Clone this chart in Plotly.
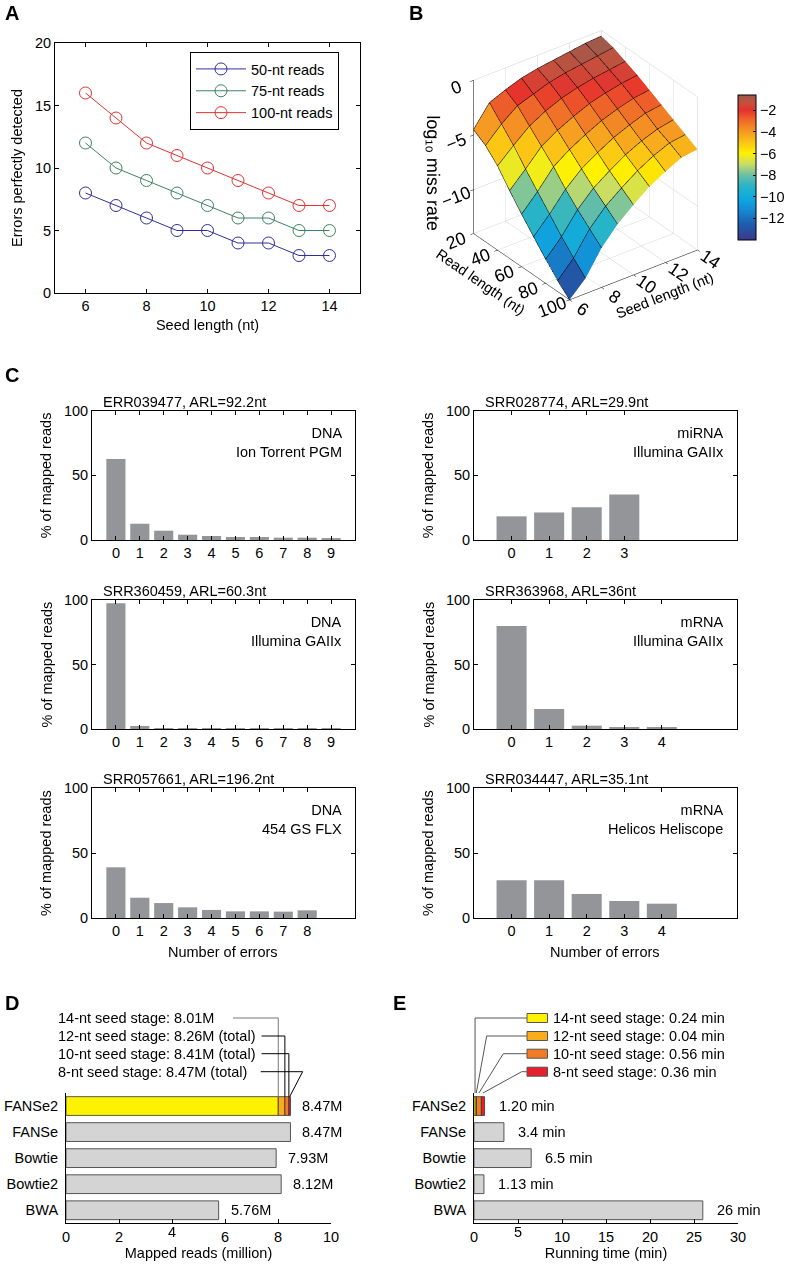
import plotly.graph_objects as go

W, H = 786, 1270
FONT = "Liberation Sans, Arial, Helvetica, sans-serif"
FS = 14.5

# ---------------- data ----------------
# A: errors perfectly detected vs seed length
seed_len = [6, 7, 8, 9, 10, 11, 12, 13, 14]
detected_50 = [8, 7, 6, 5, 5, 4, 4, 3, 3]
detected_75 = [12, 10, 9, 8, 7, 6, 6, 5, 5]
detected_100 = [16, 14, 12, 11, 10, 9, 8, 7, 7]

# B: log10 miss rate, rows = seed length, cols = read length
surf_seed = [6, 7, 8, 9, 10, 11, 12, 13, 14]
surf_read = [20, 30, 40, 50, 60, 70, 80, 90, 100]
log_miss = [
    [-4.5, -5.2, -6.3, -7.8, -9.2, -10.5, -11.8, -13.0, -14.0],
    [-2.6, -3.8, -5.0, -6.4, -7.7, -9.0, -10.3, -11.5, -12.6],
    [-2.0, -2.7, -3.8, -4.9, -6.0, -7.3, -8.4, -9.4, -10.4],
    [-1.5, -2.2, -3.0, -4.0, -5.0, -6.0, -7.0, -7.9, -8.8],
    [-1.2, -1.7, -2.4, -3.3, -4.2, -5.1, -6.0, -6.8, -7.6],
    [-1.0, -1.4, -2.0, -2.7, -3.5, -4.3, -5.1, -5.8, -6.5],
    [-0.8, -1.2, -1.7, -2.3, -3.0, -3.7, -4.4, -5.0, -5.7],
    [-0.6, -1.0, -1.5, -2.0, -2.6, -3.2, -3.9, -4.4, -5.0],
    [-0.5, -0.8, -1.3, -1.8, -2.4, -3.0, -3.6, -4.2, -4.8],
]

# C: error distributions (% of mapped reads)
err_titles = ["ERR039477, ARL=92.2nt", "SRR028774, ARL=29.9nt",
              "SRR360459, ARL=60.3nt", "SRR363968, ARL=36nt",
              "SRR057661, ARL=196.2nt", "SRR034447, ARL=35.1nt"]
err_notes = ["DNA<br>Ion Torrent PGM", "miRNA<br>Illumina GAIIx",
             "DNA<br>Illumina GAIIx", "mRNA<br>Illumina GAIIx",
             "DNA<br>454 GS FLX", "mRNA<br>Helicos Heliscope"]
err_pct = [
    [62.7, 12.6, 7.2, 4.1, 3.1, 2.3, 2.3, 1.8, 1.8, 1.5],
    [18.3, 21.3, 25.4, 35.2],
    [97.4, 2.3, 0.2, 0.1, 0.1, 0.1, 0.1, 0.1, 0.1, 0.1],
    [79.8, 15.5, 2.6, 1.3, 1.3],
    [39.0, 15.6, 11.5, 8.2, 6.2, 5.1, 5.1, 4.9, 5.9],
    [29.0, 29.0, 18.5, 13.1, 11.0],
]

# D / E: aligner comparison
tools = ["FANSe2", "FANSe", "Bowtie", "Bowtie2", "BWA"]
mapped_reads = [8.47, 8.47, 7.93, 8.12, 5.76]
mapped_labels = ["8.47M", "8.47M", "7.93M", "8.12M", "5.76M"]
stage_names = ["14-nt seed stage", "12-nt seed stage", "10-nt seed stage", "8-nt seed stage"]
stage_reads_total = [8.01, 8.26, 8.41, 8.47]
stage_reads_text = ["8.01M", "8.26M (total)", "8.41M (total)", "8.47M (total)"]
stage_time = [0.24, 0.04, 0.56, 0.36]
run_time = [1.20, 3.4, 6.5, 1.13, 26]
run_labels = ["1.20 min", "3.4 min", "6.5 min", "1.13 min", "26 min"]
stage_colors = ["#fff200", "#f9ad1d", "#f27b25", "#e5202b"]


def px_x(a, b):
    return [a / W, b / W]


def px_y(top, bottom):
    return [1 - bottom / H, 1 - top / H]


def fx(p):
    return p / W


def fy(p):
    return 1 - p / H


font = dict(family=FONT, size=FS, color="black")
fig = go.Figure()
annotations = []
shapes = []

box_axis = dict(showline=True, linecolor="black", linewidth=1, mirror="ticks",
                ticks="inside", ticklen=4, tickcolor="black", showgrid=False,
                zeroline=False, tickfont=font, automargin=False)

# ---------------- A ----------------
for vals, name, col in [(detected_50, "50-nt reads", "#2f2f9c"),
                        (detected_75, "75-nt reads", "#3f8262"),
                        (detected_100, "100-nt reads", "#e23232")]:
    fig.add_trace(go.Scatter(x=seed_len, y=vals, mode="lines+markers", name=name,
                             line=dict(color=col, width=1),
                             marker=dict(symbol="circle-open", size=12, color=col,
                                         line=dict(width=1, color=col)),
                             xaxis="x", yaxis="y"))

layout_axes = {}
layout_axes["xaxis"] = dict(box_axis, domain=px_x(55, 360), anchor="y", range=[5, 15],
                            tickvals=[6, 8, 10, 12, 14],
                            title=dict(text="Seed length (nt)", font=font, standoff=6))
layout_axes["yaxis"] = dict(box_axis, domain=px_y(43, 293), anchor="x", range=[0, 20],
                            tickvals=[0, 5, 10, 15, 20],
                            title=dict(text="Errors perfectly detected", font=font, standoff=8))

# ---------------- B ----------------
stops = [(-14.0, "#3c398a"), (-12.6, "#1f5bab"), (-11.2, "#158bd3"), (-10.2, "#0ea8df"),
         (-9.0, "#2ab4c6"), (-8.0, "#6cbfa4"), (-7.0, "#c6dc6a"), (-6.0, "#fff100"),
         (-5.0, "#fbc515"), (-4.0, "#f59a22"), (-3.0, "#ef6c2a"), (-2.0, "#e6312d"),
         (-1.3, "#c5503d"), (-0.6, "#9a5b4c")]
cmin, cmax = -14.0, -0.6
cscale = [[(v - cmin) / (cmax - cmin), c] for v, c in stops]

# flat-shaded facets: one colour per grid cell
nr = len(surf_read)
vx, vy, vz = [], [], []
for si, s in enumerate(surf_seed):
    for ri, r in enumerate(surf_read):
        vx.append(r)
        vy.append(s)
        vz.append(log_miss[si][ri])
ti, tj, tk, cell_val = [], [], [], []
for si in range(len(surf_seed) - 1):
    for ri in range(nr - 1):
        a = si * nr + ri
        b, c, d = a + 1, a + nr + 1, a + nr
        v = (vz[a] + vz[b] + vz[c] + vz[d]) / 4
        ti += [a, a]
        tj += [b, c]
        tk += [c, d]
        cell_val += [v, v]

fig.add_trace(go.Mesh3d(
    x=vx, y=vy, z=vz, i=ti, j=tj, k=tk, intensity=cell_val, intensitymode="cell",
    colorscale=cscale, cmin=cmin, cmax=cmax, flatshading=True, scene="scene",
    lighting=dict(ambient=1.0, diffuse=0.0, specular=0.0, fresnel=0.0),
    hoverinfo="skip",
    colorbar=dict(x=fx(738), xanchor="left", y=fy(167.5), yanchor="middle",
                  len=145 / H, lenmode="fraction", thickness=18,
                  outlinecolor="black", outlinewidth=1, xpad=0, ypad=0,
                  tickvals=[-2, -4, -6, -8, -10, -12], ticks="inside", ticklen=3,
                  tickcolor="black", tickfont=font),
))
# black facet edges
fig.add_trace(go.Surface(
    x=surf_read, y=surf_seed, z=log_miss, scene="scene", hidesurface=True,
    showscale=False, hoverinfo="skip",
    contours=dict(
        x=dict(show=True, start=20, end=100, size=10, color="black", width=1),
        y=dict(show=True, start=6, end=14, size=1, color="black", width=1),
        z=dict(show=False)),
))

ax3 = dict(showbackground=False, showgrid=True, gridcolor="#d0d0d0", gridwidth=1,
           showline=True, linecolor="black", linewidth=1, zeroline=False,
           ticks="outside", tickcolor="black", ticklen=4, showspikes=False,
           tickfont=font)
scene = dict(
    domain=dict(x=px_x(423, 748), y=px_y(12, 332)),
    xaxis=dict(ax3, range=[20, 100], tickvals=[20, 40, 60, 80, 100],
               title=dict(text="Read length (nt)", font=font)),
    yaxis=dict(ax3, range=[6, 14], tickvals=[6, 8, 10, 12, 14],
               title=dict(text="Seed length (nt)", font=font)),
    zaxis=dict(ax3, range=[-14, 0], tickvals=[-10, -5, 0],
               title=dict(text="log₁₀ miss rate", font=dict(font, size=18))),
    aspectmode="manual", aspectratio=dict(x=1, y=1, z=1.12),
    camera=dict(eye=dict(x=1.45, y=-1.09, z=1.05), center=dict(x=0, y=0, z=-0.05),
                projection=dict(type="orthographic")),
    bgcolor="white",
)

# ---------------- C ----------------
col_x = [(92, 355), (474, 737)]
row_y = [(410.7, 540), (600, 729), (788, 918)]
for i, vals in enumerate(err_pct):
    r, c = divmod(i, 2)
    n = i + 2
    xa, ya = f"x{n}", f"y{n}"
    fig.add_trace(go.Bar(x=list(range(len(vals))), y=vals, width=0.8,
                         marker=dict(color="#939598", line=dict(width=0)),
                         xaxis=xa, yaxis=ya, showlegend=False))
    x0, x1 = col_x[c]
    y0, y1 = row_y[r]
    xmax = 10 if c == 0 else 6
    layout_axes[f"xaxis{n}"] = dict(box_axis, domain=px_x(x0, x1), anchor=ya,
                                    range=[-1, xmax], tickvals=list(range(len(vals))))
    layout_axes[f"yaxis{n}"] = dict(box_axis, domain=px_y(y0, y1), anchor=xa,
                                    range=[0, 100], tickvals=[0, 50, 100])
    annotations.append(dict(text=err_titles[i], x=fx(x0 + 9), y=fy(y0 - 9),
                            xref="paper", yref="paper", xanchor="left", yanchor="middle",
                            showarrow=False, font=font))
    annotations.append(dict(text=err_notes[i], x=fx(x1 - 11), y=fy(y0 + 12),
                            xref="paper", yref="paper", xanchor="right", yanchor="top",
                            align="right", showarrow=False, font=font))
    annotations.append(dict(text="% of mapped reads", x=fx(x0 - 46), y=fy((y0 + y1) / 2),
                            xref="paper", yref="paper", textangle=-90,
                            xanchor="center", yanchor="middle", showarrow=False, font=font))
for c, (x0, x1) in enumerate(col_x):
    annotations.append(dict(text="Number of errors",
                            x=fx(223 if c == 0 else 605), y=fy(951.5),
                            xref="paper", yref="paper", xanchor="center", yanchor="middle",
                            showarrow=False, font=font))

# ---------------- D & E ----------------
bar_gray = dict(color="#d4d4d4", line=dict(color="#555555", width=1))
hbar_axis = dict(showline=True, linecolor="black", linewidth=1, showgrid=False,
                 zeroline=False, tickfont=font, automargin=False)
DY = (1093, 1223.3)
bar_top = 1096.7

# D
fig.add_trace(go.Bar(y=tools[1:], x=mapped_reads[1:], orientation="h", width=0.72,
                     marker=bar_gray, xaxis="x8", yaxis="y8", showlegend=False))
prev = 0
for tot, col in zip(stage_reads_total, stage_colors):
    fig.add_trace(go.Bar(y=[tools[0]], x=[tot - prev], base=[prev], orientation="h",
                         width=0.72, marker=dict(color=col, line=dict(color="#333333", width=0.8)),
                         xaxis="x8", yaxis="y8", showlegend=False))
    prev = tot
layout_axes["xaxis8"] = dict(hbar_axis, domain=px_x(66, 331), anchor="y8", range=[0, 10],
                             tickvals=[0, 2, 4, 6, 8, 10], ticktext=["0", "2", "", "6", "8", "10"],
                             ticks="inside", ticklen=4, tickcolor="black",
                             title=dict(text="Mapped reads (million)", font=font, standoff=4))
layout_axes["yaxis8"] = dict(hbar_axis, domain=px_y(*DY), anchor="x8",
                             categoryorder="array", categoryarray=tools,
                             autorange="reversed", ticks="", ticklabelstandoff=4)
annotations.append(dict(text="4", x=4, y=fy(1242), xref="x8", yref="paper",
                        xanchor="center", showarrow=False, font=font))
for t, v, lab in zip(tools, mapped_reads, mapped_labels):
    annotations.append(dict(text=lab, x=v, y=t, xref="x8", yref="y8", xanchor="left",
                            xshift=10, showarrow=False, font=font))

row_text_y = [1018, 1036, 1053.7, 1071.7]
line_start_D = [6.30, 7.38, 7.38, 7.35]
for k, (nm, txt, tot, ly) in enumerate(zip(stage_names, stage_reads_text,
                                             stage_reads_total, row_text_y)):
    annotations.append(dict(text=f"{nm}: {txt}", x=fx(55.7), y=fy(ly), xref="paper",
                            yref="paper", xanchor="left", yanchor="middle",
                            showarrow=False, font=font))
    lc = "#777777" if k == 0 else "black"
    if k < 3:
        shapes.append(dict(type="line", xref="x8", yref="paper", x0=line_start_D[k], x1=tot,
                           y0=fy(ly), y1=fy(ly), line=dict(color=lc, width=1)))
        shapes.append(dict(type="line", xref="x8", yref="paper", x0=tot, x1=tot,
                           y0=fy(ly), y1=fy(bar_top), line=dict(color=lc, width=1)))
    else:
        shapes.append(dict(type="line", xref="x8", yref="paper", x0=line_start_D[k], x1=8.93,
                           y0=fy(ly), y1=fy(ly), line=dict(color=lc, width=1)))
        shapes.append(dict(type="line", xref="x8", yref="paper", x0=8.93, x1=tot - 0.03,
                           y0=fy(ly), y1=fy(bar_top), line=dict(color=lc, width=1)))

# E
fig.add_trace(go.Bar(y=tools[1:], x=run_time[1:], orientation="h", width=0.72,
                     marker=bar_gray, xaxis="x9", yaxis="y9", showlegend=False))
prev = 0
mids = []
for st, col in zip(stage_time, stage_colors):
    fig.add_trace(go.Bar(y=[tools[0]], x=[st], base=[prev], orientation="h", width=0.72,
                         marker=dict(color=col, line=dict(color="#333333", width=0.8)),
                         xaxis="x9", yaxis="y9", showlegend=False))
    mids.append(prev + st / 2)
    prev += st
layout_axes["xaxis9"] = dict(hbar_axis, domain=px_x(474, 738), anchor="y9", range=[0, 30],
                             tickvals=[0, 5, 10, 15, 20, 25, 30],
                             ticktext=["0", "", "10", "15", "20", "25", "30"],
                             ticks="inside", ticklen=4, tickcolor="black",
                             title=dict(text="Running time (min)", font=font, standoff=4))
layout_axes["yaxis9"] = dict(hbar_axis, domain=px_y(*DY), anchor="x9",
                             categoryorder="array", categoryarray=tools,
                             autorange="reversed", ticks="", ticklabelstandoff=4)
annotations.append(dict(text="5", x=5, y=fy(1242), xref="x9", yref="paper",
                        xanchor="center", showarrow=False, font=font))
for t, v, lab in zip(tools, run_time, run_labels):
    annotations.append(dict(text=lab, x=v, y=t, xref="x9", yref="y9", xanchor="left",
                            xshift=12, showarrow=False, font=font))

elbow_E = [None, 1.44, 3.33, 5.42]
for k, (nm, st, col, ly, mid) in enumerate(zip(stage_names, stage_time, stage_colors,
                                                 row_text_y, mids)):
    shapes.append(dict(type="rect", xref="paper", yref="paper", x0=fx(527), x1=fx(547.5),
                       y0=fy(ly + 4.5), y1=fy(ly - 4.5), fillcolor=col,
                       line=dict(color="#555555", width=1)))
    annotations.append(dict(text=f"{nm}: {st:.2f} min", x=fx(551), y=fy(ly), xref="paper",
                            yref="paper", xanchor="left", yanchor="middle",
                            showarrow=False, font=font))
    ex = mid if elbow_E[k] is None else elbow_E[k]
    shapes.append(dict(type="line", xref="x9", yref="paper", x0=6.0, x1=ex,
                       y0=fy(ly), y1=fy(ly), line=dict(color="#555555", width=1)))
    shapes.append(dict(type="line", xref="x9", yref="paper", x0=ex, x1=mid,
                       y0=fy(ly), y1=fy(1093), line=dict(color="#555555", width=1)))

# ---------------- panel letters ----------------
for letter, px, py in [("A", 12, 13), ("B", 416, 13), ("C", 12, 375), ("D", 12, 1003), ("E", 399, 1003)]:
    annotations.append(dict(text=f"<b>{letter}</b>", x=fx(px), y=fy(py), xref="paper",
                            yref="paper", xanchor="center", yanchor="middle", showarrow=False,
                            font=dict(family=FONT, size=20, color="black")))

fig.update_layout(
    width=W, height=H, margin=dict(l=0, r=0, t=0, b=0, autoexpand=False),
    paper_bgcolor="white", plot_bgcolor="white",
    font=font, scene=scene, barmode="overlay",
    legend=dict(x=fx(190), y=fy(52), xanchor="left", yanchor="top",
                bordercolor="black", borderwidth=1, bgcolor="white",
                font=font, tracegroupgap=0, itemwidth=50),
    annotations=annotations, shapes=shapes,
    **layout_axes,
)

# drop the browser's default 8px page margin so the figure sits at the window origin
fig.write_html("out.html", config={"displayModeBar": False},
               post_script="document.body.style.margin = '0';")
